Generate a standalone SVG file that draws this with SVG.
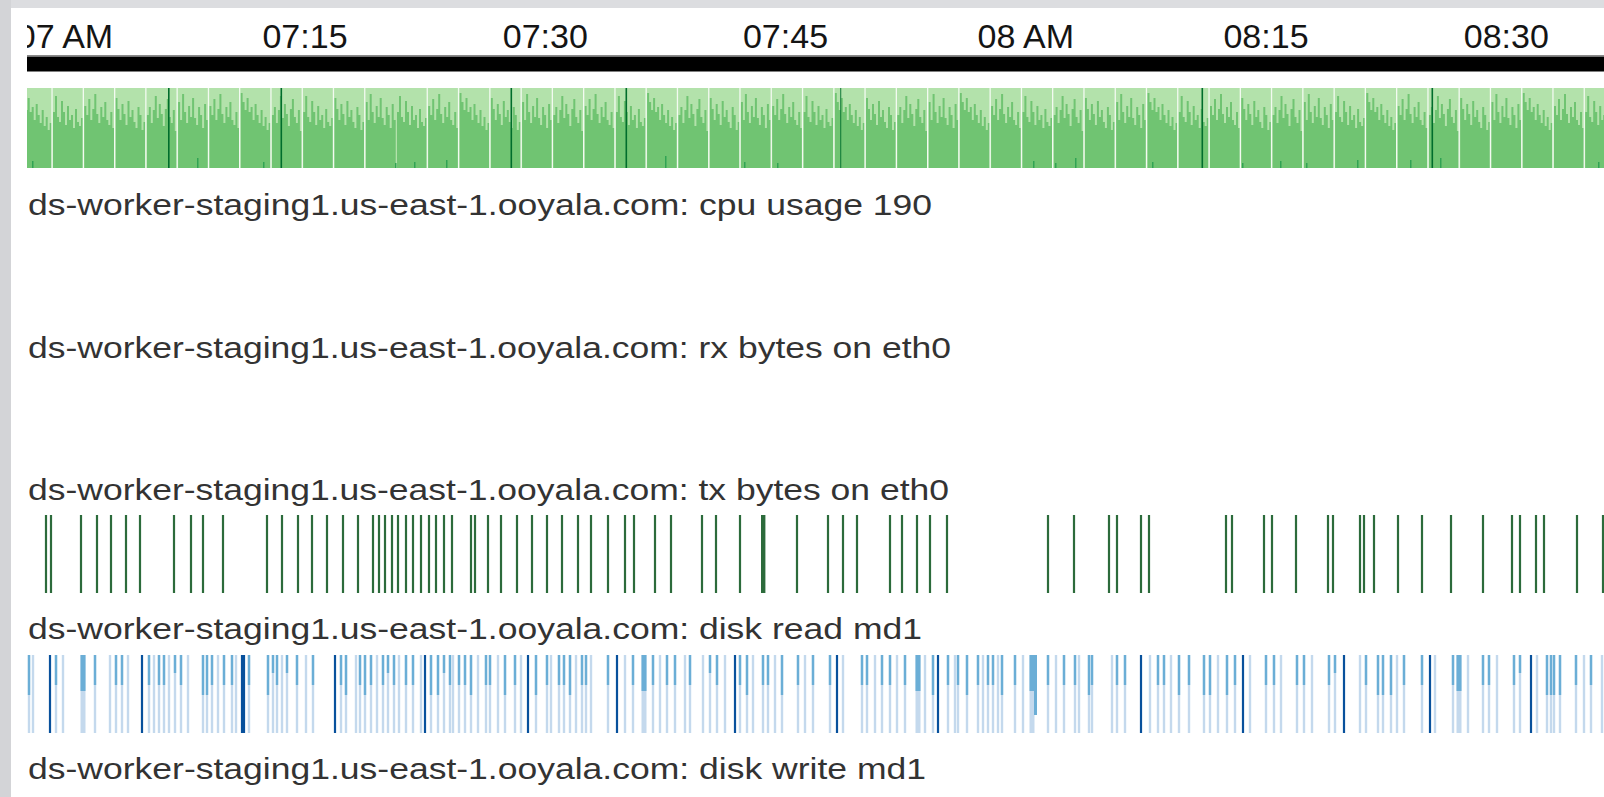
<svg xmlns="http://www.w3.org/2000/svg" xmlns:xlink="http://www.w3.org/1999/xlink" width="1604" height="797" viewBox="0 0 1604 797">
  <style>
    .tick { font-family: "Liberation Sans", Arial, Helvetica, sans-serif; font-size: 34px; fill: #141414; text-anchor: middle; }
    .title { font-family: "Liberation Sans", Arial, Helvetica, sans-serif; font-size: 30px; fill: #333333; }
    .g1 { fill: #b3e2ab; }
    .g2 { fill: #70c472; }
    .g3 { fill: #31a354; }
    .g4 { fill: #006d2c; }
    .sep { fill: #f3faf1; }
    .tx { fill: #2c6b3b; }
    .bl { fill: #c4d9ed; }
    .bm { fill: #6baed6; }
    .bn { fill: #08519c; }
  </style>
  <defs>
    <clipPath id="plot"><rect x="27" y="0" width="1577" height="797"/></clipPath>
    <!-- horizon segment shapes: second band height per 2px column -->
    <path id="sA" class="g2" d="M0 80V5H2V14H4V22H6V10H8V24H10V19H12V32H14V16H16V27H18V35H20V22H22V38H24V29H26V42H28V35H30V80Z"/>
    <path id="sB" class="g2" d="M0 80V24H2V8H4V29H6V34H8V13H10V24H12V37H14V18H16V32H18V27H20V40H22V21H24V34H26V38H28V30H30V80Z"/>
    <path id="sC" class="g2" d="M0 80V18H2V27H4V11H6V32H8V21H10V6H12V26H14V35H16V19H18V29H20V14H22V32H24V37H26V24H28V40H30V80Z"/>
    <path id="sD" class="g2" d="M0 80V10H2V21H4V32H6V16H8V26H10V37H12V13H14V29H16V22H18V34H20V40H22V19H24V27H26V42H28V34H30V80Z"/>
    <path id="sE" class="g2" d="M0 80V27H2V19H4V35H6V22H8V8H10V30H12V16H14V26H16V38H18V21H20V11H22V29H24V35H26V22H28V43H30V80Z"/>
    <path id="sF" class="g2" d="M0 80V14H2V32H4V6H6V24H8V35H10V18H12V29H14V10H16V30H18V37H20V19H22V27H24V40H26V16H28V32H30V80Z"/>
    <!-- single-sample bars -->
    <rect id="tb" class="tx" x="-1.1" y="0" width="2.2" height="78"/>
    <rect id="P" class="bl" x="-1.2" y="0" width="2.4" height="78"/>
    <g id="L"><rect class="bl" x="-1.2" y="0" width="2.4" height="78"/><rect class="bm" x="-1.2" y="0" width="2.4" height="30"/></g>
    <g id="M"><rect class="bl" x="-1.2" y="0" width="2.4" height="78"/><rect class="bm" x="-1.2" y="0" width="2.4" height="40"/></g>
    <g id="M2"><rect class="bl" x="-1.2" y="0" width="2.4" height="78"/><rect class="bm" x="-1.2" y="0" width="2.4" height="18"/></g>
    <g id="MW"><rect class="bl" x="-2.5" y="0" width="5" height="78"/><rect class="bm" x="-2.5" y="0" width="5" height="36"/></g>
    <rect id="N" class="bn" x="-1.1" y="0" width="2.2" height="78"/>
  </defs>

  <!-- page frame -->
  <rect x="0" y="0" width="1604" height="797" fill="#ffffff"/>
  <rect x="0" y="0" width="1604" height="8" fill="#dcdde0"/>
  <rect x="0" y="0" width="11" height="797" fill="#d3d4d7"/>

  <!-- time axis -->
  <g id="axis">
    <g clip-path="url(#plot)">
      <text class="tick" x="65" y="48">07 AM</text>
    </g>
    <text class="tick" x="305" y="48">07:15</text>
    <text class="tick" x="545.3" y="48">07:30</text>
    <text class="tick" x="785.5" y="48">07:45</text>
    <text class="tick" x="1025.8" y="48">08 AM</text>
    <text class="tick" x="1266" y="48">08:15</text>
    <text class="tick" x="1506.3" y="48">08:30</text>
    <rect x="27" y="55" width="1577" height="1.2" fill="#8a8a8a"/>
    <rect x="27" y="56.5" width="1577" height="15" fill="#000000"/>
  </g>

  <!-- horizon: cpu usage -->
  <g id="cpu-row" clip-path="url(#plot)">
    <rect class="g1" x="27" y="88" width="1577" height="80"/>
    <g transform="translate(0 88)">
      <use href="#sA" x="21.7"/><use href="#sB" x="53"/><use href="#sC" x="84.3"/><use href="#sD" x="115.5"/>
      <use href="#sE" x="146.8"/><use href="#sF" x="178.1"/><use href="#sC" x="209.4"/><use href="#sA" x="240.6"/>
      <use href="#sE" x="271.9"/><use href="#sB" x="303.2"/><use href="#sD" x="334.4"/><use href="#sF" x="365.7"/>
      <use href="#sB" x="397"/><use href="#sC" x="428.2"/><use href="#sA" x="459.5"/><use href="#sD" x="490.8"/>
      <use href="#sF" x="522.1"/><use href="#sE" x="553.3"/><use href="#sC" x="584.6"/><use href="#sB" x="615.9"/>
      <use href="#sA" x="647.1"/><use href="#sE" x="678.4"/><use href="#sD" x="709.7"/><use href="#sF" x="740.9"/>
      <use href="#sC" x="772.2"/><use href="#sB" x="803.5"/><use href="#sA" x="834.8"/><use href="#sD" x="866"/>
      <use href="#sE" x="897.3"/><use href="#sF" x="928.6"/><use href="#sA" x="959.8"/><use href="#sC" x="991.1"/>
      <use href="#sB" x="1022.4"/><use href="#sE" x="1053.6"/><use href="#sD" x="1084.9"/><use href="#sF" x="1116.2"/>
      <use href="#sA" x="1147.5"/><use href="#sB" x="1178.7"/><use href="#sC" x="1210"/><use href="#sD" x="1241.3"/>
      <use href="#sE" x="1272.5"/><use href="#sF" x="1303.8"/><use href="#sB" x="1335.1"/><use href="#sA" x="1366.3"/>
      <use href="#sC" x="1397.6"/><use href="#sE" x="1428.9"/><use href="#sD" x="1460.2"/><use href="#sF" x="1491.4"/>
      <use href="#sA" x="1522.7"/><use href="#sC" x="1554"/><use href="#sB" x="1585.2"/>
    </g>
    <!-- gaps between sample windows -->
    <g class="sep">
      <rect x="51.4" y="88" width="1.3" height="80"/><rect x="82.7" y="88" width="1.3" height="80"/>
      <rect x="114" y="88" width="1.3" height="80"/><rect x="145.2" y="88" width="1.3" height="80"/>
      <rect x="176.5" y="88" width="1.3" height="80"/><rect x="207.8" y="88" width="1.3" height="80"/>
      <rect x="239" y="88" width="1.3" height="80"/><rect x="270.3" y="88" width="1.3" height="80"/>
      <rect x="301.6" y="88" width="1.3" height="80"/><rect x="332.8" y="88" width="1.3" height="80"/>
      <rect x="364.1" y="88" width="1.3" height="80"/><rect x="426.6" y="88" width="1.3" height="80"/>
      <rect x="457.9" y="88" width="1.3" height="80"/><rect x="489.2" y="88" width="1.3" height="80"/>
      <rect x="520.5" y="88" width="1.3" height="80"/><rect x="551.7" y="88" width="1.3" height="80"/>
      <rect x="583" y="88" width="1.3" height="80"/><rect x="614.3" y="88" width="1.3" height="80"/>
      <rect x="645.5" y="88" width="1.3" height="80"/><rect x="676.8" y="88" width="1.3" height="80"/>
      <rect x="708.1" y="88" width="1.3" height="80"/><rect x="739.3" y="88" width="1.3" height="80"/>
      <rect x="770.6" y="88" width="1.3" height="80"/><rect x="801.9" y="88" width="1.3" height="80"/>
      <rect x="833.2" y="88" width="1.3" height="80"/><rect x="864.4" y="88" width="1.3" height="80"/>
      <rect x="895.7" y="88" width="1.3" height="80"/><rect x="927" y="88" width="1.3" height="80"/>
      <rect x="958.2" y="88" width="1.3" height="80"/><rect x="989.5" y="88" width="1.3" height="80"/>
      <rect x="1020.8" y="88" width="1.3" height="80"/><rect x="1052" y="88" width="1.3" height="80"/>
      <rect x="1083.3" y="88" width="1.3" height="80"/><rect x="1114.6" y="88" width="1.3" height="80"/>
      <rect x="1145.8" y="88" width="1.3" height="80"/><rect x="1177.1" y="88" width="1.3" height="80"/>
      <rect x="1208.4" y="88" width="1.3" height="80"/><rect x="1239.7" y="88" width="1.3" height="80"/>
      <rect x="1270.9" y="88" width="1.3" height="80"/><rect x="1302.2" y="88" width="1.3" height="80"/>
      <rect x="1333.5" y="88" width="1.3" height="80"/><rect x="1364.7" y="88" width="1.3" height="80"/>
      <rect x="1396" y="88" width="1.3" height="80"/><rect x="1427.3" y="88" width="1.3" height="80"/>
      <rect x="1458.5" y="88" width="1.3" height="80"/><rect x="1489.8" y="88" width="1.3" height="80"/>
      <rect x="1521.1" y="88" width="1.3" height="80"/><rect x="1552.3" y="88" width="1.3" height="80"/>
      <rect x="1583.6" y="88" width="1.3" height="80"/>
    </g>
    <!-- third band spikes -->
    <g class="g3">
      <rect x="32" y="161" width="1.5" height="7"/><rect x="197" y="158" width="1.5" height="10"/>
      <rect x="263" y="162" width="1.5" height="6"/><rect x="395" y="163" width="1.5" height="5"/>
      <rect x="414" y="162" width="1.5" height="6"/><rect x="446" y="160" width="1.5" height="8"/>
      <rect x="665" y="156" width="1.5" height="12"/><rect x="744" y="162" width="1.5" height="6"/>
      <rect x="777" y="163" width="1.5" height="5"/><rect x="1033" y="161" width="1.5" height="7"/>
      <rect x="1055" y="163" width="1.5" height="5"/><rect x="1075" y="158" width="1.5" height="10"/>
      <rect x="1152" y="162" width="1.5" height="6"/><rect x="1242" y="163" width="1.5" height="5"/>
      <rect x="1280" y="161" width="1.5" height="7"/><rect x="1306" y="163" width="1.5" height="5"/>
      <rect x="1357" y="160" width="1.5" height="8"/><rect x="1410" y="160" width="1.5" height="8"/>
      <rect x="1440" y="158" width="1.5" height="10"/><rect x="1598" y="162" width="1.5" height="6"/>
    </g>
    <!-- fourth band spikes -->
    <g class="g4">
      <rect x="168" y="88" width="1.6" height="80"/><rect x="280.5" y="88" width="1.6" height="80"/>
      <rect x="510.5" y="88" width="1.6" height="80"/><rect x="625.5" y="88" width="1.6" height="80"/>
      <rect x="840" y="88" width="1.3" height="80" opacity="0.7"/><rect x="1201.5" y="88" width="1.6" height="80"/>
      <rect x="1431.5" y="88" width="1.6" height="80"/>
    </g>
  </g>
  <text class="title" x="28" y="215" textLength="904" lengthAdjust="spacingAndGlyphs">ds-worker-staging1.us-east-1.ooyala.com: cpu usage 190</text>

  <!-- horizon: rx bytes (no samples in range) -->
  <g id="rx-row">
    <text class="title" x="28" y="358" textLength="923" lengthAdjust="spacingAndGlyphs">ds-worker-staging1.us-east-1.ooyala.com: rx bytes on eth0</text>
  </g>

  <!-- horizon: tx bytes -->
  <g id="tx-row">
    <text class="title" x="28" y="500" textLength="921" lengthAdjust="spacingAndGlyphs">ds-worker-staging1.us-east-1.ooyala.com: tx bytes on eth0</text>
    <g transform="translate(0 515)">
      <use href="#tb" x="46"/><use href="#tb" x="51"/><use href="#tb" x="81"/><use href="#tb" x="97"/>
      <use href="#tb" x="111"/><use href="#tb" x="126"/><use href="#tb" x="140"/><use href="#tb" x="174"/>
      <use href="#tb" x="191"/><use href="#tb" x="203"/><use href="#tb" x="223"/><use href="#tb" x="267"/>
      <use href="#tb" x="282"/><use href="#tb" x="298"/><use href="#tb" x="312"/><use href="#tb" x="327"/>
      <use href="#tb" x="343"/><use href="#tb" x="358"/><use href="#tb" x="373"/><use href="#tb" x="379"/>
      <use href="#tb" x="385"/><use href="#tb" x="392"/><use href="#tb" x="398"/><use href="#tb" x="406"/>
      <use href="#tb" x="413"/><use href="#tb" x="421"/><use href="#tb" x="429"/><use href="#tb" x="436"/>
      <use href="#tb" x="444"/><use href="#tb" x="452"/><use href="#tb" x="471"/><use href="#tb" x="475"/>
      <use href="#tb" x="488"/><use href="#tb" x="501"/><use href="#tb" x="517"/><use href="#tb" x="532"/>
      <use href="#tb" x="547"/><use href="#tb" x="562"/><use href="#tb" x="578"/><use href="#tb" x="591"/>
      <use href="#tb" x="608"/><use href="#tb" x="625"/><use href="#tb" x="634"/><use href="#tb" x="655"/>
      <use href="#tb" x="671"/><use href="#tb" x="702"/><use href="#tb" x="716"/><use href="#tb" x="740"/>
      <rect class="tx" x="761" y="0" width="4.4" height="78"/>
      <use href="#tb" x="797"/><use href="#tb" x="828"/><use href="#tb" x="843"/><use href="#tb" x="857"/>
      <use href="#tb" x="890"/><use href="#tb" x="902"/><use href="#tb" x="917"/><use href="#tb" x="930"/>
      <use href="#tb" x="947"/><use href="#tb" x="1048"/><use href="#tb" x="1074"/><use href="#tb" x="1109"/>
      <use href="#tb" x="1117"/><use href="#tb" x="1141"/><use href="#tb" x="1149"/><use href="#tb" x="1226"/>
      <use href="#tb" x="1232"/><use href="#tb" x="1264"/><use href="#tb" x="1272"/><use href="#tb" x="1296"/>
      <use href="#tb" x="1328"/><use href="#tb" x="1333"/><use href="#tb" x="1360"/><use href="#tb" x="1364"/>
      <use href="#tb" x="1374"/><use href="#tb" x="1398"/><use href="#tb" x="1422"/><use href="#tb" x="1451"/>
      <use href="#tb" x="1483"/><use href="#tb" x="1512"/><use href="#tb" x="1520"/><use href="#tb" x="1536"/>
      <use href="#tb" x="1544"/><use href="#tb" x="1577"/><use href="#tb" x="1603"/>
    </g>
  </g>

  <!-- horizon: disk read -->
  <g id="disk-read-row">
    <text class="title" x="28" y="639" textLength="894" lengthAdjust="spacingAndGlyphs">ds-worker-staging1.us-east-1.ooyala.com: disk read md1</text>
    <g transform="translate(0 655)">
      <use href="#M" x="29"/><use href="#P" x="33"/><use href="#N" x="50"/><use href="#L" x="56"/>
      <use href="#P" x="63"/><use href="#MW" x="83"/><use href="#L" x="95"/><use href="#P" x="110"/>
      <use href="#L" x="116"/><use href="#L" x="122"/><use href="#P" x="128"/><use href="#N" x="142"/>
      <use href="#L" x="149"/><use href="#P" x="154"/><use href="#L" x="159"/><use href="#L" x="164"/>
      <use href="#P" x="169"/><use href="#M2" x="175"/><use href="#L" x="181"/><use href="#P" x="188"/>
      <use href="#M" x="203"/><use href="#M" x="207"/><use href="#L" x="212"/><use href="#P" x="218"/>
      <use href="#L" x="224"/><use href="#L" x="232"/><use href="#P" x="236"/><use href="#N" x="242"/>
      <use href="#N" x="244"/><use href="#L" x="249"/><use href="#M" x="268"/><use href="#M2" x="273"/>
      <use href="#L" x="277"/><use href="#P" x="282"/><use href="#M2" x="287"/><use href="#L" x="297"/>
      <use href="#P" x="306"/><use href="#L" x="313"/><use href="#N" x="335"/><use href="#L" x="341"/>
      <use href="#M" x="346"/><use href="#P" x="356"/><use href="#L" x="360"/><use href="#M" x="365"/>
      <use href="#L" x="371"/><use href="#P" x="377"/><use href="#L" x="383"/><use href="#M2" x="388"/>
      <use href="#L" x="394"/><use href="#P" x="399"/><use href="#L" x="406"/><use href="#L" x="413"/>
      <use href="#P" x="421"/><use href="#N" x="425"/><use href="#M" x="431"/><use href="#M" x="438"/>
      <use href="#M2" x="444"/><use href="#L" x="450"/><use href="#P" x="453"/><use href="#L" x="459"/>
      <use href="#L" x="465"/><use href="#M" x="471"/><use href="#P" x="478"/><use href="#L" x="486"/>
      <use href="#L" x="490"/><use href="#P" x="498"/><use href="#M" x="505"/><use href="#L" x="515"/>
      <use href="#P" x="521"/><use href="#N" x="528"/><use href="#M" x="536"/><use href="#L" x="547"/>
      <use href="#P" x="551"/><use href="#L" x="559"/><use href="#L" x="564"/><use href="#M" x="570"/>
      <use href="#P" x="576"/><use href="#L" x="582"/><use href="#L" x="586"/><use href="#P" x="591"/>
      <use href="#L" x="608"/><use href="#N" x="617"/><use href="#P" x="625"/><use href="#L" x="633"/>
      <use href="#MW" x="644"/><use href="#L" x="653"/><use href="#P" x="660"/><use href="#L" x="667"/>
      <use href="#L" x="675"/><use href="#P" x="685"/><use href="#L" x="690"/><use href="#P" x="703"/>
      <use href="#M2" x="710"/><use href="#L" x="717"/><use href="#P" x="725"/><use href="#N" x="735"/>
      <use href="#L" x="740"/><use href="#M" x="747"/><use href="#P" x="753"/><use href="#L" x="763"/>
      <use href="#L" x="768"/><use href="#P" x="775"/><use href="#M" x="782"/><use href="#L" x="798"/>
      <use href="#P" x="805"/><use href="#L" x="813"/><use href="#L" x="830"/><use href="#N" x="837"/>
      <use href="#P" x="843"/><use href="#L" x="862"/><use href="#L" x="867"/><use href="#P" x="875"/>
      <use href="#L" x="882"/><use href="#L" x="890"/><use href="#P" x="897"/><use href="#L" x="905"/>
      <use href="#MW" x="918"/><use href="#P" x="925"/><use href="#M" x="933"/><use href="#N" x="938"/>
      <use href="#L" x="948"/><use href="#P" x="955"/><use href="#L" x="958"/><use href="#M" x="967"/>
      <use href="#L" x="978"/><use href="#P" x="983"/><use href="#L" x="988"/><use href="#L" x="993"/>
      <use href="#P" x="998"/><use href="#M" x="1002"/><use href="#L" x="1015"/><use href="#P" x="1023"/>
      <use href="#MW" x="1032"/><rect class="bm" x="1034" y="0" width="3" height="60"/><use href="#L" x="1048"/>
      <use href="#P" x="1056"/><use href="#L" x="1064"/><use href="#L" x="1075"/><use href="#P" x="1079"/>
      <use href="#M" x="1089"/><use href="#L" x="1092"/><use href="#P" x="1112"/><use href="#L" x="1117"/>
      <use href="#L" x="1125"/><use href="#N" x="1141"/><use href="#P" x="1150"/><use href="#L" x="1158"/>
      <use href="#L" x="1164"/><use href="#P" x="1171"/><use href="#M" x="1179"/><use href="#L" x="1189"/>
      <use href="#M" x="1204"/><use href="#M" x="1210"/><use href="#P" x="1218"/><use href="#M" x="1227"/>
      <use href="#L" x="1235"/><use href="#N" x="1243"/><use href="#P" x="1250"/><use href="#L" x="1266"/>
      <use href="#L" x="1274"/><use href="#P" x="1281"/><use href="#L" x="1297"/><use href="#L" x="1304"/>
      <use href="#P" x="1312"/><use href="#L" x="1329"/><use href="#M2" x="1335"/><use href="#N" x="1344"/>
      <use href="#P" x="1360"/><use href="#L" x="1366"/><use href="#M" x="1378"/><use href="#M" x="1383"/>
      <use href="#M" x="1391"/><use href="#P" x="1397"/><use href="#L" x="1404"/><use href="#L" x="1422"/>
      <use href="#N" x="1430"/><use href="#P" x="1435"/><use href="#L" x="1453"/><use href="#MW" x="1459"/>
      <use href="#P" x="1468"/><use href="#L" x="1483"/><use href="#L" x="1489"/><use href="#P" x="1497"/>
      <use href="#L" x="1514"/><use href="#M2" x="1520"/><use href="#N" x="1531"/><use href="#P" x="1537"/>
      <use href="#M" x="1547"/><use href="#M" x="1551"/><use href="#M" x="1554"/><use href="#M" x="1560"/>
      <use href="#L" x="1576"/><use href="#P" x="1584"/><use href="#L" x="1591"/><use href="#P" x="1602"/>
    </g>
  </g>

  <!-- horizon: disk write -->
  <g id="disk-write-row">
    <text class="title" x="28" y="779" textLength="898" lengthAdjust="spacingAndGlyphs">ds-worker-staging1.us-east-1.ooyala.com: disk write md1</text>
  </g>
</svg>
